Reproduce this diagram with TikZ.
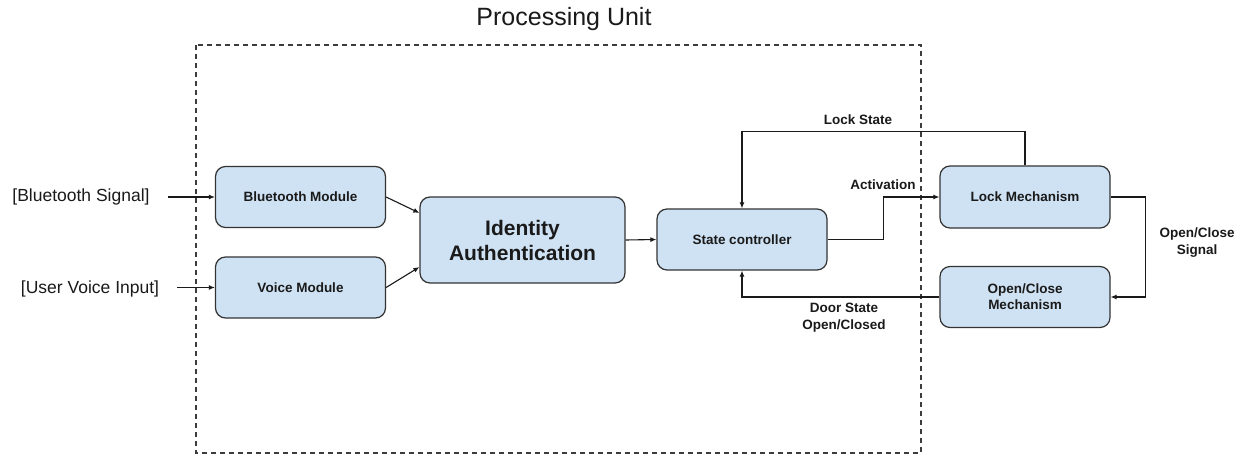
\documentclass[tikz,border=0pt]{standalone}
\usepackage{fontspec}
\setmainfont{Liberation Sans}
\usetikzlibrary{arrows.meta,calc}
\definecolor{boxfill}{HTML}{CFE2F3}
\definecolor{boxline}{HTML}{333333}
\definecolor{txt}{HTML}{1A1A1A}
\begin{document}
\begin{tikzpicture}[x=1pt,y=-1pt,
  block/.style={draw=boxline,fill=boxfill,line width=1.2pt,rounded corners=10pt,
     minimum width=170pt,minimum height=61pt,align=center,text=txt,
     font=\fontsize{13.5}{16}\selectfont\bfseries,inner sep=2pt},
  conn/.style={line width=1.1pt,draw=txt,-{Latex[length=6pt,width=5pt]}},
  plainline/.style={line width=1.1pt,draw=txt},
  lbl/.style={text=txt,font=\fontsize{13.5}{17}\selectfont\bfseries,align=center,inner sep=1pt},
  inlbl/.style={text=txt,font=\fontsize{17.5}{20}\selectfont,inner sep=1pt}]
\useasboundingbox (0,0) rectangle (1241,455);
\fill[white] (0,0) rectangle (1241,455);

% processing unit
\draw[line width=1.1pt,draw=txt!85,dash pattern=on 5pt off 4pt] (196,45) rectangle (921,453);
\node[text=txt,font=\fontsize{25}{28}\selectfont] (pu) at (564,19) {Processing Unit};

% blocks
\node[block] (bt) at (300.5,197) {Bluetooth Module};
\node[block] (vm) at (300.5,287.5) {Voice Module};
\node[block,minimum width=205pt,minimum height=86pt,font=\fontsize{21}{25}\selectfont\bfseries] (ia) at (522.5,240) {Identity\\Authentication};
\node[block] (sc) at (742,239.5) {State controller};
\node[block,minimum height=62pt] (lm) at (1025,197) {Lock Mechanism};
\node[block] (om) at (1025,297) {Open/Close\\Mechanism};

% inputs
\node[inlbl] (bs) at (81,197) {[Bluetooth Signal]};
\node[inlbl] (uv) at (90,289) {[User Voice Input]};
\coordinate (bsend) at (168,197);
\coordinate (uvend) at (177,287.5);
\draw[conn] (bsend) -- (bt.west);
\draw[conn] (uvend) -- (vm.west);

% into identity
\draw[conn] (bt.east) -- ($(ia.north west)!0.19!(ia.south west)$);
\draw[conn] (vm.east) -- ($(ia.north west)!0.81!(ia.south west)$);
\draw[conn] (ia.east) -- (sc.west);

% activation
\draw[conn] (sc.east) -- ++(56,0) |- (lm.west);
\node[lbl] (act) at (883,185) {Activation};

% lock state
\draw[conn] (lm.north) -- ++(0,-34) -| (sc.north);
\node[lbl] (ls) at (858,120) {Lock State};

% open/close signal
\draw[conn] (lm.east) -- ++(35,0) |- (om.east);
\node[lbl] (ocs) at (1197,243) {Open/Close\\Signal};

% door state
\draw[conn] (om.west) -| (sc.south);
\node[lbl] (ds) at (844,318) {Door State\\Open/Closed};
\end{tikzpicture}
\end{document}
